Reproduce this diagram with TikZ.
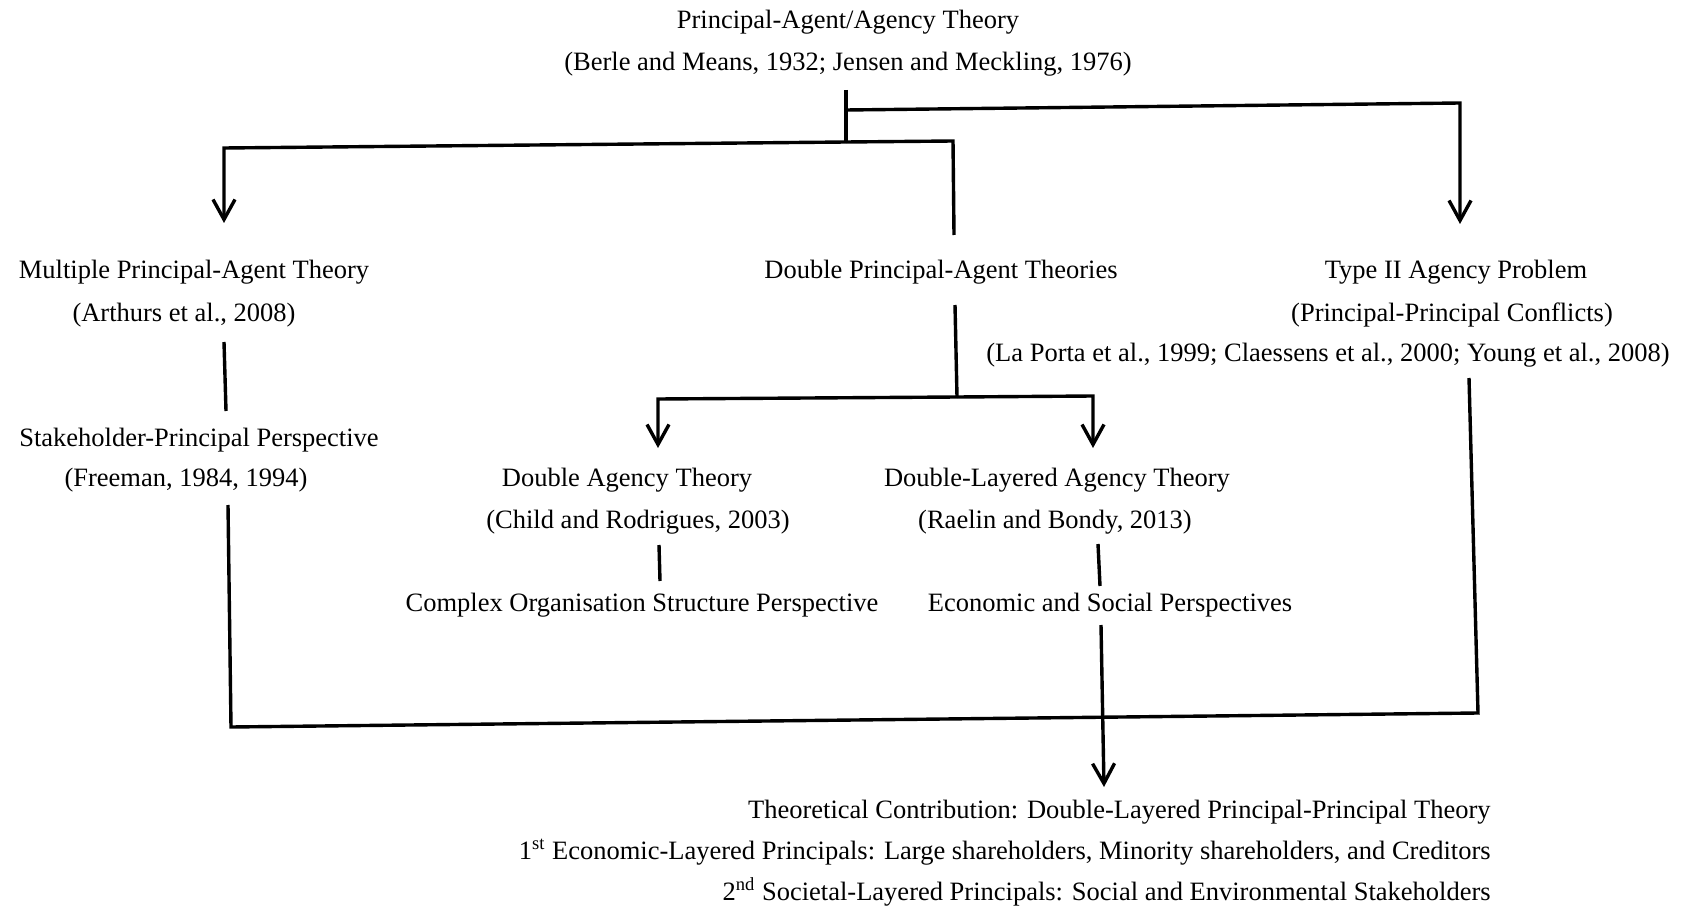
\documentclass[tikz,border=0pt]{standalone}
\usepackage{fontspec}
\setmainfont{Liberation Serif}
\usetikzlibrary{arrows.meta}
\begin{document}
\begin{tikzpicture}[x=0.5pt,y=-0.5pt,
  lbl/.style={inner sep=0pt, yshift=-1.5pt, font=\fontsize{13.25}{15}\selectfont},
  link/.style={line width=1.7pt, line join=miter},
  flow/.style={link, -{Straight Barb[length=10pt,width=11pt,line width=1.7pt]}}]
\useasboundingbox (0,0) rectangle (1686,909);

% ---- theory labels ----
\node[lbl] (root1) at (848,19) {Principal-Agent/Agency Theory};
\node[lbl] (root2) at (848,61) {(Berle and Means, 1932; Jensen and Meckling, 1976)};

\node[lbl] (mpa1) at (194,269) {Multiple Principal-Agent Theory};
\node[lbl] (mpa2) at (184,312) {(Arthurs et al., 2008)};

\node[lbl] (dpa) at (941,269) {Double Principal-Agent Theories};

\node[lbl] (t2a) at (1456,269) {Type II Agency Problem};
\node[lbl] (t2b) at (1452,312) {(Principal-Principal Conflicts)};
\node[lbl] (t2c) at (1328,352) {(La Porta et al., 1999; Claessens et al., 2000; Young et al., 2008)};

\node[lbl] (spp1) at (199,437) {Stakeholder-Principal Perspective};
\node[lbl] (spp2) at (186,477) {(Freeman, 1984, 1994)};

\node[lbl] (da1) at (627,477) {Double Agency Theory};
\node[lbl] (da2) at (638,519) {(Child and Rodrigues, 2003)};
\node[lbl] (dl1) at (1057,477) {Double-Layered Agency Theory};
\node[lbl] (dl2) at (1055,519) {(Raelin and Bondy, 2013)};

\node[lbl] (cos) at (642,602) {Complex Organisation Structure Perspective};
\node[lbl] (esp) at (1110,602) {Economic and Social Perspectives};

\node[lbl, anchor=east] (tc1) at (1491,809) {Theoretical Contribution: Double-Layered Principal-Principal Theory};
\node[lbl, anchor=east] (tc2) at (1491,849) {1\textsuperscript{st} Economic-Layered Principals: Large shareholders, Minority shareholders, and Creditors};
\node[lbl, anchor=east] (tc3) at (1491,889) {2\textsuperscript{nd} Societal-Layered Principals: Social and Environmental Stakeholders};

% ---- connector points ----
\coordinate (rootstem) at (846,90);
\coordinate (hub) at (846,142);
\coordinate (rjoin) at (846,110);
\coordinate (rcorner) at (1460,103);
\coordinate (rtip) at (1460,224);
\coordinate (lcorner) at (224,148);
\coordinate (ltip) at (224,223);
\coordinate (mcorner) at (953,141);
\coordinate (mend) at (954,235);

\coordinate (mpadown) at (224,342);
\coordinate (sppup) at (226,411);

\coordinate (dpadown) at (955,305);
\coordinate (dpahub) at (957,397);
\coordinate (dacorner) at (658,399);
\coordinate (datip) at (658,448);
\coordinate (dlcorner) at (1093,396);
\coordinate (dltip) at (1093,448);

\coordinate (dadown) at (659,545);
\coordinate (cosup) at (660,581);
\coordinate (dldown) at (1098,544);
\coordinate (espup) at (1100,586);

\coordinate (espdown) at (1101,625);
\coordinate (tctip) at (1104,787);

\coordinate (sppdown) at (228,505);
\coordinate (bl) at (231,727);
\coordinate (br) at (1478,713);
\coordinate (t2down) at (1469,378);

% ---- connectors ----
\draw[link] (rootstem) -- (hub);
\draw[flow] (rjoin) -- (rcorner) -- (rtip);
\draw[flow] (hub) -- (lcorner) -- (ltip);
\draw[link] (hub) -- (mcorner) -- (mend);

\draw[link] (mpadown) -- (sppup);

\draw[link] (dpadown) -- (dpahub);
\draw[flow] (dpahub) -- (dacorner) -- (datip);
\draw[flow] (dpahub) -- (dlcorner) -- (dltip);

\draw[link] (dadown) -- (cosup);
\draw[link] (dldown) -- (espup);

\draw[link] (sppdown) -- (bl) -- (br) -- (t2down);
\draw[flow] (espdown) -- (tctip);
\end{tikzpicture}
\end{document}
